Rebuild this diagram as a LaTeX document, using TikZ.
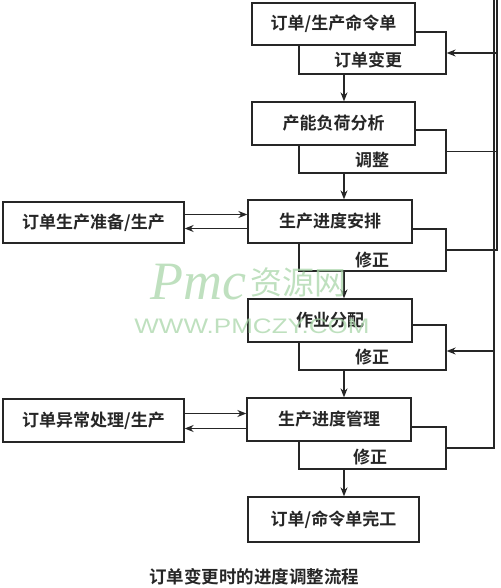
\documentclass[tikz,border=0pt]{standalone}
\usepackage{fontspec}
\setmainfont{Noto Sans CJK SC}[BoldFont={Noto Sans CJK SC Bold}]
\newfontfamily\wmfont{Liberation Sans}
\newfontfamily\wmscript{Liberation Serif}
\usetikzlibrary{arrows.meta}
\definecolor{ink}{HTML}{262626}
\definecolor{wm}{HTML}{A9D6A9}
\begin{document}
\begin{tikzpicture}[x=1pt,y=-1pt,
  mainbox/.style={draw=ink,line width=1.3pt,fill=white,inner sep=0pt,font=\bfseries\fontsize{17}{18}\selectfont,text=ink},
  lblbox/.style={draw=ink,line width=1.3pt,fill=white,inner sep=0pt,minimum width=147pt},
  lbltext/.style={font=\bfseries\fontsize{17}{18}\selectfont,text=ink,inner sep=0pt},
  arr/.style={draw=ink,line width=1.3pt,-{Stealth[length=9pt,width=7pt]}},
  ln/.style={draw=ink,line width=1.3pt},
  wmtext/.style={text=wm,opacity=0.75,inner sep=0pt}]
\useasboundingbox (0,0) rectangle (500,588);
% label boxes (behind)
\node[lblbox,minimum height=42pt] (l1) at (372.5,53) {};
\node[lblbox,minimum height=43pt] (l2) at (372.5,151.5) {};
\node[lblbox,minimum height=42pt] (l3) at (372.5,250) {};
\node[lblbox,minimum height=45pt] (l4) at (372.5,347.5) {};
\node[lblbox,minimum height=42pt] (l5) at (372.5,448) {};
% main boxes
\node[mainbox,minimum width=163pt,minimum height=42pt] (b1) at (333.5,24) {订单/生产命令单};
\node[mainbox,minimum width=163pt,minimum height=43pt] (b2) at (333.5,123.5) {产能负荷分析};
\node[mainbox,minimum width=164pt,minimum height=43pt] (b3) at (330,221.5) {生产进度安排};
\node[mainbox,minimum width=164pt,minimum height=43pt] (b4) at (330,320.5) {作业分配};
\node[mainbox,minimum width=164pt,minimum height=43pt] (b5) at (329,419.5) {生产进度管理};
\node[mainbox,minimum width=171pt,minimum height=45pt] (b6) at (333.5,519.5) {订单/命令单完工};
\node[mainbox,minimum width=181pt,minimum height=41pt] (p1) at (93.5,222.5) {订单生产准备/生产};
\node[mainbox,minimum width=181pt,minimum height=43pt] (p2) at (93.5,420.5) {订单异常处理/生产};
% label texts
\node[lbltext] (t1) at (368,60) {订单变更};
\node[lbltext] (t2) at (372,160) {调整};
\node[lbltext] (t3) at (372,260) {修正};
\node[lbltext] (t4) at (372,357) {修正};
\node[lbltext] (t5) at (370,457) {修正};
% caption
\node[font=\bfseries\fontsize{17.5}{18}\selectfont,text=ink,inner sep=0pt] (cap) at (254,577) {订单变更时的进度调整流程};
% connectors
\coordinate (cx) at (344,0);
\coordinate (fr) at (497,0);
\coordinate (fr2) at (494,0);
\draw[arr] (l1.south -| cx) -- (b2.north -| cx);
\draw[arr] (l2.south -| cx) -- (b3.north -| cx);
\draw[arr] (l3.south -| cx) -- (b4.north -| cx);
\draw[arr] (l4.south -| cx) -- (b5.north -| cx);
\draw[arr] (l5.south -| cx) -- (b6.north -| cx);
\draw[arr] (l3.east) -| (fr) |- (l1.east);
\draw[ln] (l2.east) -- (l2.east -| fr);
\draw[arr] (l5.east) -| (fr2) |- ([yshift=-3.5pt]l4.east);
\draw[arr] ([yshift=8pt]p1.east) -- ([yshift=8pt]p1.east -| b3.west);
\draw[arr] ([yshift=-6pt]p1.east -| b3.west) -- ([yshift=-6pt]p1.east);
\draw[arr] ([yshift=7pt]p2.east) -- ([yshift=7pt]p2.east -| b5.west);
\draw[arr] ([yshift=-8pt]p2.east -| b5.west) -- ([yshift=-8pt]p2.east);
% watermark (on top, faint)
\node[wmtext,font=\wmscript\itshape\fontsize{54}{54}\selectfont] (wm1) at (198,282) {Pmc};
\node[wmtext,font=\fontsize{32}{32}\selectfont] (wm2) at (298,282) {资源网};
\node[wmtext,font=\wmfont\fontsize{21}{21}\selectfont,xscale=1.24] (wm3) at (252,326) {WWW.PMCZY.COM};
\end{tikzpicture}
\end{document}
